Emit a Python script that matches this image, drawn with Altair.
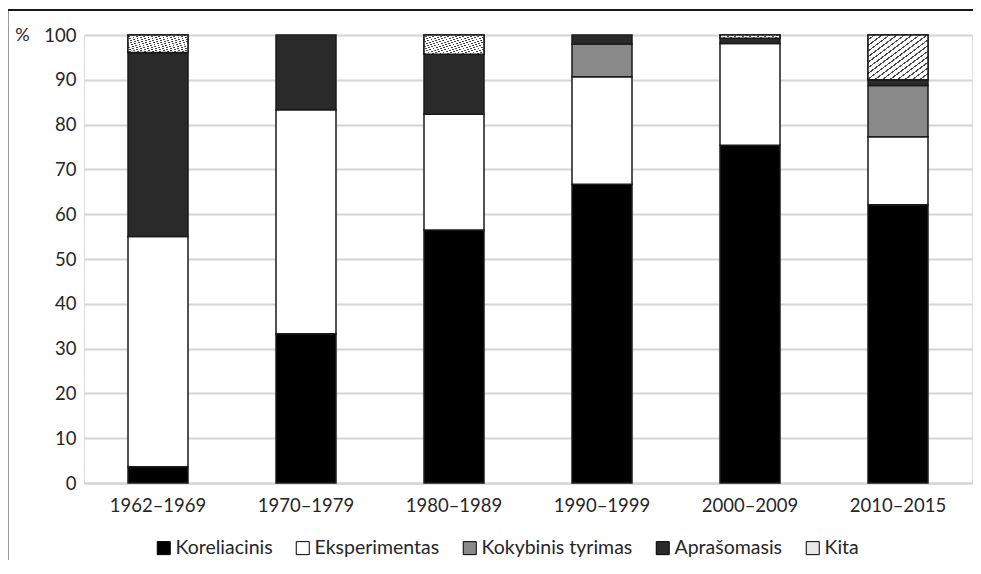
import altair as alt
import pandas as pd

periods = ["1962–1969", "1970–1979", "1980–1989", "1990–1999", "2000–2009", "2010–2015"]
series = ["Koreliacinis", "Eksperimentas", "Kokybinis tyrimas", "Aprašomasis", "Kita"]
koreliacinis = [3.6, 33.3, 56.5, 66.7, 75.4, 62.1]
eksperimentas = [51.4, 50.0, 25.8, 24.0, 22.7, 15.2]
kokybinis = [0.0, 0.0, 0.0, 7.3, 0.0, 11.4]
aprasomasis = [41.1, 16.7, 13.4, 2.0, 1.2, 1.3]
kita = [3.9, 0.0, 4.3, 0.0, 0.7, 10.0]
y_ticks = [0, 10, 20, 30, 40, 50, 60, 70, 80, 90, 100]

values = [koreliacinis, eksperimentas, kokybinis, aprasomasis, kita]
rows = []
for i, p in enumerate(periods):
    base = 0.0
    for s, vals in zip(series, values):
        v = vals[i]
        if v > 0:
            rows.append({"period": p, "series": s, "value": v, "start": base, "end": base + v})
        base += v
df = pd.DataFrame(rows)

FONT = "Lato"
colors = ["#000000", "#ffffff", "#898989", "#2a2a2a", "#e8e8e8"]

x = alt.X("period:N", sort=periods, title=None,
          scale=alt.Scale(paddingInner=0, paddingOuter=0),
          axis=alt.Axis(labelAngle=0, labelFontSize=18.5, labelFont=FONT, labelColor="#262626",
                        labelPadding=13, ticks=False, domainColor="#d4d4d4", domainWidth=2))
y = alt.Y("start:Q", title="%",
          scale=alt.Scale(domain=[0, 100], nice=False),
          axis=alt.Axis(values=y_ticks, labelFontSize=18.5, labelFont=FONT, labelColor="#262626",
                        labelPadding=8, ticks=False, domain=False, grid=True,
                        gridColor="#d4d4d4", gridWidth=2,
                        titleAngle=0, titleX=-62, titleY=0, titleAlign="center",
                        titleBaseline="middle", titleFontSize=18, titleFont=FONT,
                        titleFontWeight="normal", titleColor="#262626"))

bars = alt.Chart(df).mark_bar(size=60, stroke="#1a1a1a", strokeWidth=1.5).encode(
    x=x,
    y=y,
    y2="end:Q",
    color=alt.Color("series:N", sort=series,
                    scale=alt.Scale(domain=series, range=colors),
                    legend=alt.Legend(title=None, orient="none", direction="horizontal",
                                      legendX=70, legendY=503, columns=5,
                                      symbolType="square", symbolSize=169,
                                      symbolStrokeColor="#000000", symbolStrokeWidth=1,
                                      labelFontSize=19.5, labelFont=FONT, labelColor="#262626",
                                      columnPadding=20, labelOffset=2)),
)

hatch_stops = []
n = 16
for k in range(n):
    a = k / n
    b = (k + 0.75) / n
    c = (k + 1) / n
    hatch_stops += [
        alt.GradientStop(color="#ffffff", offset=a),
        alt.GradientStop(color="#ffffff", offset=b),
        alt.GradientStop(color="#444444", offset=b),
        alt.GradientStop(color="#444444", offset=c),
    ]
hatch = alt.LinearGradient(gradient="linear", stops=hatch_stops, x1=0, y1=0, x2=1, y2=1)

kita_layer = alt.Chart(df).transform_filter(alt.datum.series == "Kita").mark_bar(
    size=60, stroke="#1a1a1a", strokeWidth=1.5, fill=hatch
).encode(x=x, y=y, y2="end:Q")

left_frame = alt.Chart(df).mark_rule(color="#9a9a9a", strokeWidth=1.5).encode(
    x=alt.value(-76), y=alt.value(-25), y2=alt.value(560))
top_frame = alt.Chart(df).mark_rule(color="#1a1a1a", strokeWidth=1.5).encode(
    x=alt.value(-76), x2=alt.value(900), y=alt.value(-25))

chart = alt.layer(bars, kita_layer, left_frame, top_frame).properties(
    width=888, height=448,
    autosize=alt.AutoSizeParams(type="none"),
    padding={"left": 76, "top": 27, "right": 1, "bottom": 77},
).configure_view(stroke=None).configure(font=FONT)

chart.save("out.html", embed_options={"renderer": "svg", "actions": False})
